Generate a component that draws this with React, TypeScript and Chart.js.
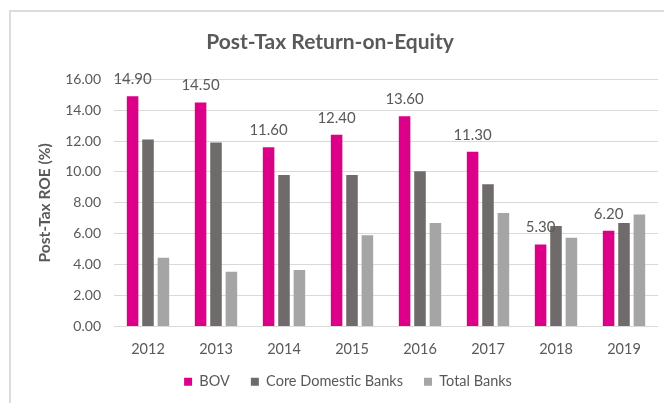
import React, { useEffect, useRef } from "react";
import { Chart, registerables } from "chart.js";

Chart.register(...registerables);

const years = ["2012", "2013", "2014", "2015", "2016", "2017", "2018", "2019"];
const bovValues = [14.9, 14.5, 11.6, 12.4, 13.6, 11.3, 5.3, 6.2];
const coreDomesticValues = [12.1, 11.9, 9.8, 9.8, 10.05, 9.2, 6.5, 6.7];
const totalBanksValues = [4.45, 3.55, 3.65, 5.9, 6.7, 7.35, 5.75, 7.25];
const yTickValues = [0, 2, 4, 6, 8, 10, 12, 14, 16];

const FONT = "Lato, 'Open Sans', 'DejaVu Sans', sans-serif";
const TEXT = "#595959";

const valueLabelPlugin = {
  id: "valueLabels",
  afterDatasetsDraw(chart: any) {
    const ctx = chart.ctx;
    const meta = chart.getDatasetMeta(0);
    ctx.save();
    ctx.font = `15px ${FONT}`;
    ctx.fillStyle = TEXT;
    ctx.textAlign = "center";
    ctx.textBaseline = "middle";
    meta.data.forEach((bar: any, i: number) => {
      ctx.fillText(bovValues[i].toFixed(2), bar.x, bar.y - 17);
    });
    ctx.restore();
  },
};

// Title and legend are centred on slightly different points in the original layout.
const blockOffsetPlugin = {
  id: "blockOffsets",
  afterLayout(chart: any) {
    const t = chart.titleBlock;
    if (t) {
      t.left -= 17;
      t.right -= 17;
    }
    const l = chart.legend;
    if (l) {
      l.left += 1;
      l.right += 1;
      l.top -= 4;
      l.bottom -= 4;
    }
  },
};

export default function App() {
  const canvasRef = useRef<HTMLCanvasElement | null>(null);

  useEffect(() => {
    if (!canvasRef.current) return;
    const chart = new Chart(canvasRef.current, {
      type: "bar",
      data: {
        labels: years,
        datasets: [
          { label: "BOV", data: bovValues, backgroundColor: "#dc0088" },
          { label: "Core Domestic Banks", data: coreDomesticValues, backgroundColor: "#6f6b6b" },
          { label: "Total Banks", data: totalBanksValues, backgroundColor: "#a5a5a5" },
        ],
      },
      options: {
        animation: false,
        responsive: false,
        maintainAspectRatio: false,
        layout: { padding: { left: 36, right: 6, top: 10, bottom: 0 } },
        datasets: { bar: { categoryPercentage: 0.68, barPercentage: 0.75 } },
        plugins: {
          tooltip: { enabled: false },
          title: {
            display: true,
            text: "Post-Tax Return-on-Equity",
            color: TEXT,
            font: { family: FONT, size: 21, weight: "bold" },
            padding: { top: 20, bottom: 24 },
          },
          legend: {
            position: "bottom",
            labels: {
              color: TEXT,
              font: { family: FONT, size: 14.5 },
              boxWidth: 8,
              boxHeight: 8,
              padding: 21,
            },
          },
        },
        scales: {
          x: {
            grid: { display: false, drawTicks: false },
            border: { display: false },
            ticks: { color: TEXT, font: { family: FONT, size: 14.5 }, padding: 14 },
            afterFit(scale: any) {
              scale.height = 31;
            },
          },
          y: {
            min: 0,
            max: 16,
            afterBuildTicks(scale: any) {
              scale.ticks = yTickValues.map((v) => ({ value: v }));
            },
            grid: { color: "#d9d9d9", drawTicks: false },
            border: { display: false },
            ticks: {
              color: TEXT,
              font: { family: FONT, size: 14 },
              padding: 13,
              callback: (v: any) => Number(v).toFixed(2),
            },
            title: {
              display: true,
              text: "Post-Tax ROE (%)",
              color: TEXT,
              font: { family: FONT, size: 15.5, weight: "bold" },
              padding: { top: 0, bottom: 0 },
            },
            afterFit(scale: any) {
              scale.width = 78;
            },
          },
        },
      },
      plugins: [valueLabelPlugin, blockOffsetPlugin],
    });
    return () => chart.destroy();
  }, []);

  return (
    <div
      style={{
        position: "absolute",
        left: 0,
        top: 0,
        width: 664,
        height: 403,
        overflow: "hidden",
        background: "#ffffff",
      }}
    >
      <div
        style={{
          position: "absolute",
          left: 9,
          top: 10,
          width: 720,
          height: 460,
          borderLeft: "2px solid #dcdcdc",
          borderTop: "2px solid #dcdcdc",
        }}
      />
      <canvas
        ref={canvasRef}
        width={664}
        height={403}
        style={{ position: "absolute", left: 0, top: 0, width: 664, height: 403 }}
      />
    </div>
  );
}
